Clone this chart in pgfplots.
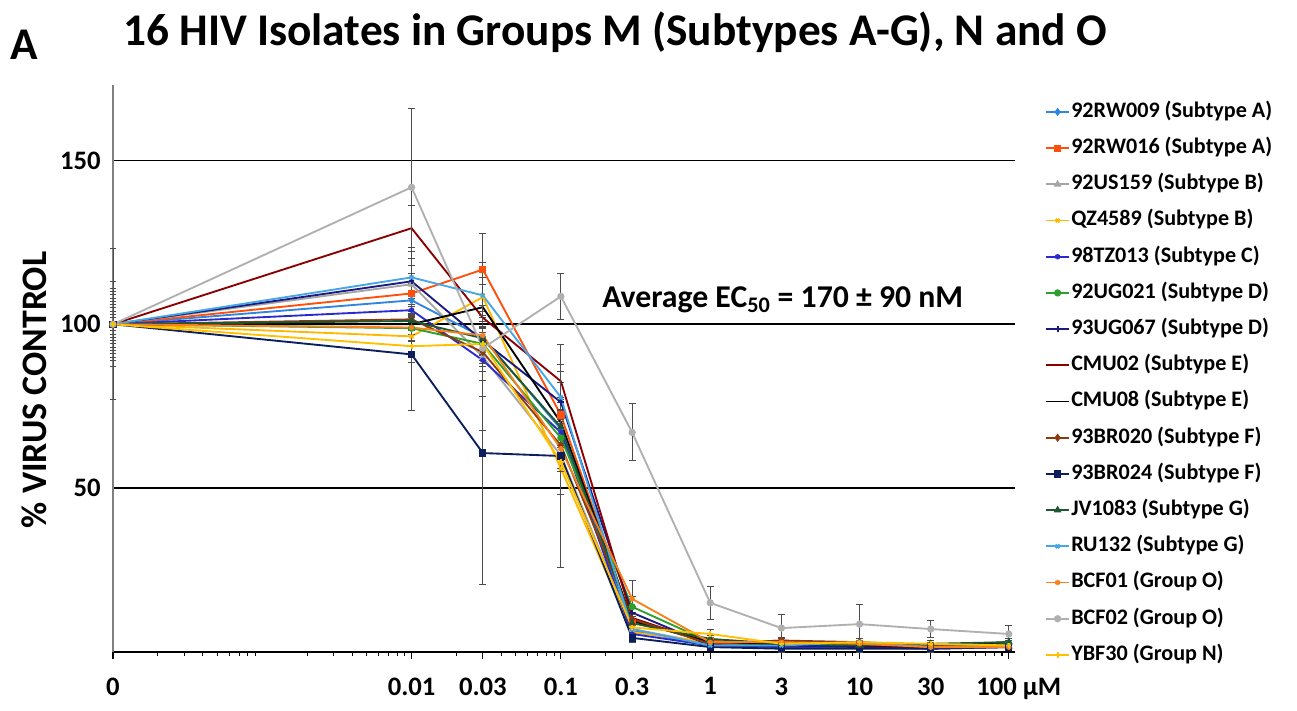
\documentclass[border=0pt]{standalone}
\usepackage{fontspec}
\setmainfont{Carlito}
\usepackage{pgfplots}
\pgfplotsset{compat=1.18}
\usepackage{pgfplotstable}

\definecolor{cA1}{HTML}{2E86DE}
\definecolor{cA2}{HTML}{FF4F0A}
\definecolor{cB1}{HTML}{A5A5A5}
\definecolor{cB2}{HTML}{FFB800}
\definecolor{cC}{HTML}{2A2ACF}
\definecolor{cD1}{HTML}{2CA02C}
\definecolor{cD2}{HTML}{1A1A80}
\definecolor{cE1}{HTML}{8B0000}
\definecolor{cE2}{HTML}{000000}
\definecolor{cF1}{HTML}{8B3A0F}
\definecolor{cF2}{HTML}{0A1F5C}
\definecolor{cG1}{HTML}{1E5631}
\definecolor{cG2}{HTML}{47A6E6}
\definecolor{cO1}{HTML}{F5821F}
\definecolor{cO2}{HTML}{B0B0B0}
\definecolor{cN}{HTML}{FFC000}

% x = concentration (uM; 0 plotted at 1e-4), y = % virus control, e = error
\pgfplotstableread{
x y e
0.0001 100 6
0.01 107.3 5
0.03 96 8
0.1 68 8
0.3 6.5 2
1 2 1
3 1.5 1
10 2.5 1
30 1.5 1
100 2 1
}\tA
\pgfplotstableread{
x y e
0.0001 100 9
0.01 109.4 6
0.03 116.7 11
0.1 72.3 10
0.3 9 3
1 3.5 1
3 2 1
10 2.5 1
30 2 1
100 2 1
}\tB
\pgfplotstableread{
x y e
0.0001 100 13
0.01 112.2 10
0.03 90 12
0.1 60 12
0.3 7 2
1 2.5 1
3 2 1
10 2 1
30 1.5 1
100 2 1
}\tC
\pgfplotstableread{
x y e
0.0001 100 3
0.01 96.3 5
0.03 108.3 9
0.1 56 8
0.3 6 2
1 3 1
3 2.5 1
10 3 1
30 2 1
100 2 1
}\tD
\pgfplotstableread{
x y e
0.0001 100 5
0.01 104.3 6
0.03 89 6
0.1 67 7
0.3 5.5 2
1 2 1
3 1.5 1
10 1.5 1
30 1 1
100 1.5 1
}\tE
\pgfplotstableread{
x y e
0.0001 100 4
0.01 98.8 4
0.03 94 5
0.1 65.3 6
0.3 13.8 3
1 3 1
3 2 1
10 1.5 1
30 2 1
100 2.5 1
}\tF
\pgfplotstableread{
x y e
0.0001 100 7
0.01 113.1 7
0.03 95 7
0.1 76.2 6
0.3 12 2
1 2 1
3 2 1
10 1.5 1
30 1.5 1
100 2 1
}\tG
\pgfplotstableread{
x y e
0.0001 100 23
0.01 129.3 7
0.03 102 10
0.1 82.6 5
0.3 10.4 3
1 2.5 1
3 3.5 1
10 2 1
30 1.5 1
100 2 1
}\tH
\pgfplotstableread{
x y e
0.0001 100 2
0.01 100 3
0.03 105.2 9
0.1 70 7
0.3 9.5 2
1 3 1
3 2.5 1
10 2 1
30 2 1
100 3 1
}\tI
\pgfplotstableread{
x y e
0.0001 100 8
0.01 101.5 8
0.03 91.5 6
0.1 63 8
0.3 10 2
1 2.5 1
3 3.5 1
10 3 1
30 2 1
100 2 1
}\tJ
\pgfplotstableread{
x y e
0.0001 100 10
0.01 90.8 17
0.03 60.7 40
0.1 59.8 34
0.3 4.3 1.5
1 1.5 1
3 1 1
10 1 1
30 1 1
100 1.5 1
}\tK
\pgfplotstableread{
x y e
0.0001 100 3
0.01 101 3
0.03 95.7 5
0.1 68.6 5
0.3 8.8 2
1 4 1
3 2.5 1
10 2 1
30 2.5 1
100 3 1
}\tL
\pgfplotstableread{
x y e
0.0001 100 5
0.01 114.3 9
0.03 108.8 10
0.1 77.7 8
0.3 7 2
1 2 1
3 2 1
10 3 1
30 1.5 1
100 2 1
}\tM
\pgfplotstableread{
x y e
0.0001 100 4
0.01 99 4
0.03 96.6 6
0.1 62 6
0.3 16.2 5.5
1 3 1
3 3 1
10 2.5 1
30 1.5 1
100 1.5 1
}\tN
\pgfplotstableread{
x y e
0.0001 100 11
0.01 141.8 24
0.03 92.7 25
0.1 108.5 7
0.3 67 8.7
1 15 5
3 7.3 4.3
10 8.5 6
30 7 2.5
100 5.5 2.5
}\tO
\pgfplotstableread{
x y e
0.0001 100 6
0.01 93.3 5
0.03 94 7
0.1 58 10
0.3 7.5 2
1 5.5 1.5
3 2.5 1
10 3 1
30 2.5 1
100 2 1
}\tP

\pgfplotsset{
  eb/.style={error bars/.cd, y dir=both, y explicit,
    error bar style={line width=0.7pt, color=gray!60!black},
    error mark options={rotate=90, mark size=2.6pt, line width=0.7pt, gray!60!black}},
  ser/.style={line width=1.4pt, mark size=2pt, mark options={solid}},
}

\begin{document}
\begin{tikzpicture}
\path[use as bounding box] (0,0) rectangle (972.75pt,533.25pt);
\begin{axis}[
  at={(84.75pt,44.25pt)}, anchor=south west, scale only axis,
  width=676.5pt, height=425.25pt,
  xmode=log, xmin=1e-4, xmax=110, ymin=0, ymax=173,
  axis x line=bottom, axis y line=left,
  x axis line style={-, black, line width=1.1pt},
  y axis line style={-, gray, line width=1.6pt},
  xtick={1e-4,0.01,0.03,0.1,0.3,1,3,10,30,100},
  xticklabels={0,0.01,0.03,0.1,0.3,1,3,10,30,\hspace*{15pt}100 µM},
  minor xtick={2e-4,3e-4,4e-4,5e-4,6e-4,7e-4,8e-4,9e-4,
    0.002,0.003,0.004,0.005,0.006,0.007,0.008,0.009,
    0.02,0.04,0.05,0.06,0.07,0.08,0.09,
    0.2,0.4,0.5,0.6,0.7,0.8,0.9,
    2,4,5,6,7,8,9,20,40,50,60,70,80,90},
  ytick={50,100,150}, yticklabels={50,100,150},
  ymajorgrids, grid style={black, line width=1.3pt},
  tick align=outside,
  major tick length=5pt, minor tick length=3pt,
  x tick style={black, line width=0.8pt},
  y tick style={draw=none},
  ticklabel style={font=\bfseries\fontsize{20}{24}\selectfont},
  yticklabel style={inner sep=0pt, xshift=-4pt},
  xticklabel style={inner sep=0pt, yshift=-14pt},
  clip=false,
  legend cell align=left,
  legend style={at={(1.0333,0.9718)}, anchor=north west, draw=none, fill=none,
    inner sep=0pt, row sep=11.15pt,
    nodes={inner sep=1pt, text height=11pt, text depth=3pt},
    font=\bfseries\fontsize{16.6}{18}\selectfont},
]
\addplot[ser, cA1, mark=diamond*, eb] table[x=x,y=y,y error=e] \tA;
\addlegendentry{92RW009 (Subtype A)}
\addplot[ser, cA2, mark=square*, eb] table[x=x,y=y,y error=e] \tB;
\addlegendentry{92RW016 (Subtype A)}
\addplot[ser, cB1, mark=triangle*, eb] table[x=x,y=y,y error=e] \tC;
\addlegendentry{92US159 (Subtype B)}
\addplot[ser, cB2, mark=x, eb] table[x=x,y=y,y error=e] \tD;
\addlegendentry{QZ4589 (Subtype B)}
\addplot[ser, cC, mark=asterisk, eb] table[x=x,y=y,y error=e] \tE;
\addlegendentry{98TZ013 (Subtype C)}
\addplot[ser, cD1, mark=*, eb] table[x=x,y=y,y error=e] \tF;
\addlegendentry{92UG021 (Subtype D)}
\addplot[ser, cD2, mark=+, eb] table[x=x,y=y,y error=e] \tG;
\addlegendentry{93UG067 (Subtype D)}
\addplot[ser, cE1, mark=none, eb] table[x=x,y=y,y error=e] \tH;
\addlegendentry{CMU02 (Subtype E)}
\addplot[ser, cE2, mark=none, eb] table[x=x,y=y,y error=e] \tI;
\addlegendentry{CMU08 (Subtype E)}
\addplot[ser, cF1, mark=diamond*, eb] table[x=x,y=y,y error=e] \tJ;
\addlegendentry{93BR020 (Subtype F)}
\addplot[ser, cF2, mark=square*, eb] table[x=x,y=y,y error=e] \tK;
\addlegendentry{93BR024 (Subtype F)}
\addplot[ser, cG1, mark=triangle*, eb] table[x=x,y=y,y error=e] \tL;
\addlegendentry{JV1083 (Subtype G)}
\addplot[ser, cG2, mark=x, eb] table[x=x,y=y,y error=e] \tM;
\addlegendentry{RU132 (Subtype G)}
\addplot[ser, cO1, mark=asterisk, eb] table[x=x,y=y,y error=e] \tN;
\addlegendentry{BCF01 (Group O)}
\addplot[ser, cO2, mark=*, eb] table[x=x,y=y,y error=e] \tO;
\addlegendentry{BCF02 (Group O)}
\addplot[ser, cN, mark=+, eb] table[x=x,y=y,y error=e] \tP;
\addlegendentry{YBF30 (Group N)}
\end{axis}
\node[font=\bfseries\fontsize{34}{40}\selectfont] at (18pt,500pt) {A};
\node[font=\bfseries\fontsize{34}{40}\selectfont] at (461.25pt,509.25pt) {16 HIV Isolates in Groups M (Subtypes A-G), N and O};
\node[rotate=90, font=\bfseries\fontsize{26.9}{32}\selectfont] at (25.5pt,240.75pt) {\% VIRUS CONTROL};
\node[anchor=west, inner sep=0pt, font=\bfseries\fontsize{23.8}{28}\selectfont] at (451.5pt,308.25pt) {Average EC\textsubscript{50} = 170 ± 90 nM};
\end{tikzpicture}
\end{document}
